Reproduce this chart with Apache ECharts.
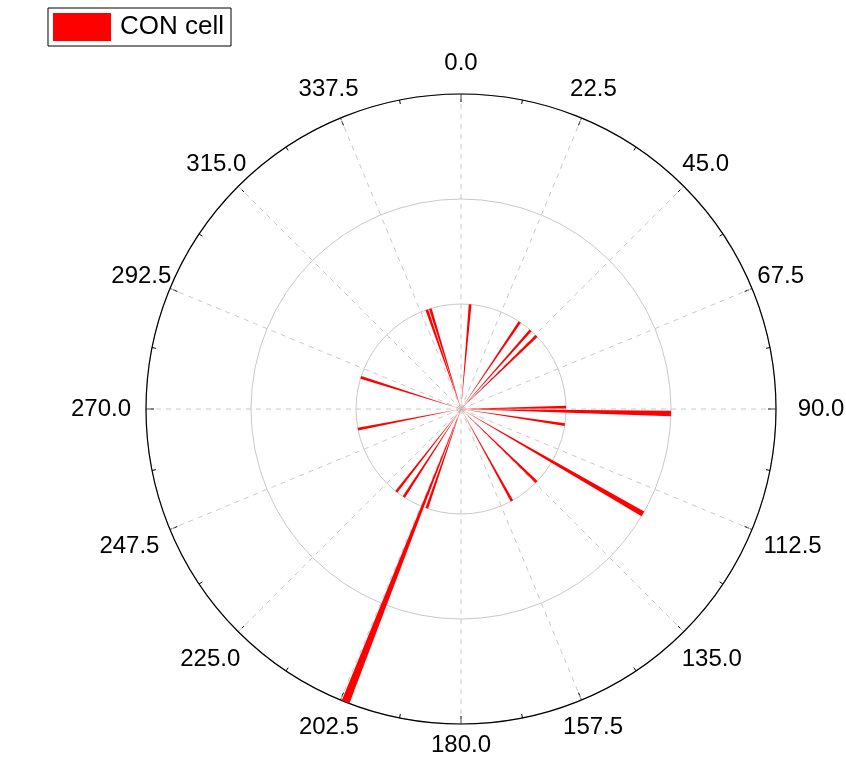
<!DOCTYPE html>
<html>
<head>
<meta charset="utf-8">
<script src="https://cdn.jsdelivr.net/npm/echarts@6/dist/echarts.min.js"></script>
<style>
  html, body { margin: 0; padding: 0; background: #fff; }
  #RoseChart { width: 846px; height: 766px; }
</style>
</head>
<body>
<div id="RoseChart"></div>
<script>
// direction of each bar (deg, clockwise from north) and its length
const angles = [5, 341, 343, 34, 41.5, 46, 89, 91.2, 98.5, 120, 134, 151, 199, 201.5, 213, 218, 259, 287.5];
const lengths = [1, 1, 1, 1, 1, 1, 1, 2, 1, 2, 1, 1, 1, 3, 1, 1, 1, 1];
const angleTicks = [0, 22.5, 45, 67.5, 90, 112.5, 135, 157.5, 180, 202.5, 225, 247.5, 270, 292.5, 315, 337.5];
const radiusTicks = [-3, -2, -1, 0, 1, 2, 3];
const seriesName = 'CON cell';

const font = 'Liberation Sans, Arial, sans-serif';
const cx = 461, cy = 409, R = 315;
const labelSize = 24;

// Origin centres the angle labels on a ring (a bit wider at the sides and
// lower half); echarts anchors them by a corner, so each label gets its own
// padding to move it there.
const ringRadius = (ux, uy) =>
  346 + (uy > -0.1 ? 14 * Math.abs(ux) : 0) - 10 * Math.pow(Math.max(0, uy), 6);

const measureCtx = document.createElement('canvas').getContext('2d');
measureCtx.font = labelSize + 'px Liberation Sans';
const rich = {};
angleTicks.forEach((a, i) => {
  const ux = Math.sin(a * Math.PI / 180);
  const uy = -Math.cos(a * Math.PI / 180);
  const lr = ringRadius(ux, uy);
  const px = cx + R * ux, py = cy + R * uy;
  const tx = cx + lr * ux, ty = cy + lr * uy;
  const w = measureCtx.measureText(a.toFixed(1)).width;
  const h = labelSize;
  let pl = 0, pr = 0, pt = 0, pb = 0;
  if (Math.abs(ux) < 0.3) {
    const d = tx - px;
    if (d > 0) pl = 2 * d; else pr = -2 * d;
  } else if (ux > 0) {
    pl = tx - px - w / 2;
  } else {
    pr = px - tx - w / 2;
  }
  if (Math.abs(uy) < 0.3) {
    const d = ty - py;
    if (d > 0) pt = 2 * d; else pb = -2 * d;
  } else if (uy > 0) {
    pt = ty - py - h / 2;
  } else {
    pb = py - ty - h / 2;
  }
  rich['t' + i] = {
    fontSize: labelSize,
    fontFamily: font,
    color: '#000',
    padding: [pt, pr, pb, pl]
  };
});

const myChart = echarts.init(document.getElementById('RoseChart'));

const option = {
  animation: false,
  textStyle: { fontFamily: font },
  legend: {
    data: [seriesName],
    left: 48,
    top: 8,
    icon: 'rect',
    itemWidth: 58,
    itemHeight: 28,
    padding: [5, 7, 5, 5],
    borderColor: '#000',
    borderWidth: 1,
    textStyle: { fontSize: 26, color: '#000', fontFamily: font, padding: [0, 0, 0, 4] }
  },
  polar: {
    center: [cx, cy],
    radius: R
  },
  angleAxis: {
    type: 'value',
    min: 0,
    max: 360,
    interval: 22.5,
    startAngle: 90,
    clockwise: true,
    axisLine: { lineStyle: { color: '#000', width: 1.2 } },
    axisTick: { show: true, inside: true, length: 8, lineStyle: { color: '#000' } },
    minorTick: { show: true, splitNumber: 2, length: 4, lineStyle: { color: '#000' } },
    splitLine: { show: true, lineStyle: { color: '#c8c8c8', type: [5, 5], width: 1 } },
    axisLabel: {
      margin: 0,
      fontSize: labelSize,
      color: '#000',
      fontFamily: font,
      rich: rich,
      formatter: (v) => {
        const i = angleTicks.indexOf(v);
        return i >= 0 ? '{t' + i + '|' + v.toFixed(1) + '}' : '';
      }
    }
  },
  radiusAxis: {
    type: 'value',
    min: 0,
    max: 3,
    interval: 1,
    axisLine: { show: false },
    axisTick: { show: false },
    axisLabel: { show: false },
    splitLine: { show: true, lineStyle: { color: '#c8c8c8', width: 1 } }
  },
  // left radial scale, Origin style: 3 .. 0 .. 3
  singleAxis: {
    type: 'value',
    orient: 'vertical',
    left: 47,
    top: 94,
    width: 20,
    height: 630,
    min: radiusTicks[0],
    max: radiusTicks[radiusTicks.length - 1],
    interval: 1,
    inverse: true,
    axisLine: { show: true, lineStyle: { color: '#000', width: 1.2 } },
    axisTick: { show: true, inside: false, length: 10, lineStyle: { color: '#555' } },
    minorTick: { show: true, splitNumber: 2, length: 6, lineStyle: { color: '#555' } },
    splitLine: { show: false },
    splitArea: { show: false },
    axisPointer: { show: false },
    axisLabel: {
      margin: 16,
      fontSize: 21,
      color: '#000',
      fontFamily: font,
      formatter: (v) => String(Math.abs(v))
    }
  },
  series: [
    {
      name: seriesName,
      type: 'bar',
      coordinateSystem: 'polar',
      barWidth: 1.5,
      itemStyle: { color: '#ff0000' },
      data: angles.map((a, i) => [lengths[i], a])
    }
  ]
};

myChart.setOption(option);
</script>
</body>
</html>
